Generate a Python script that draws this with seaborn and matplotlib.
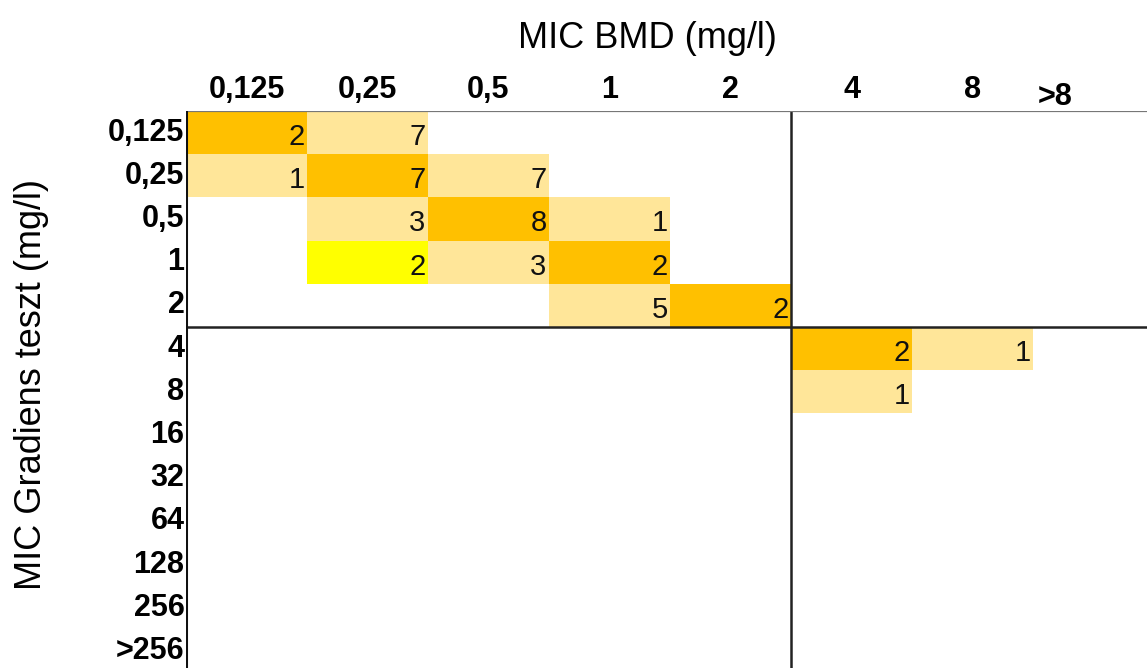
import numpy as np
import matplotlib
matplotlib.use('agg')
import matplotlib.pyplot as plt
import matplotlib.transforms as mtransforms
from matplotlib.colors import ListedColormap
import seaborn as sns

bmd_labels = ["0,125", "0,25", "0,5", "1", "2", "4", "8", ">8"]
gradient_labels = ["0,125", "0,25", "0,5", "1", "2", "4", "8", "16", "32", "64", "128", "256", ">256"]

# counts per (gradient test row, BMD column); 0 = empty cell
counts = [
    [2, 7, 0, 0, 0, 0, 0, 0],
    [1, 7, 7, 0, 0, 0, 0, 0],
    [0, 3, 8, 1, 0, 0, 0, 0],
    [0, 2, 3, 2, 0, 0, 0, 0],
    [0, 0, 0, 5, 2, 0, 0, 0],
    [0, 0, 0, 0, 0, 2, 1, 0],
    [0, 0, 0, 0, 0, 1, 0, 0],
    [0, 0, 0, 0, 0, 0, 0, 0],
    [0, 0, 0, 0, 0, 0, 0, 0],
    [0, 0, 0, 0, 0, 0, 0, 0],
    [0, 0, 0, 0, 0, 0, 0, 0],
    [0, 0, 0, 0, 0, 0, 0, 0],
    [0, 0, 0, 0, 0, 0, 0, 0],
]

# cell shading class: 0 none, 1 light, 2 dark (agreement), 3 yellow
shade = [
    [2, 1, 0, 0, 0, 0, 0, 0],
    [1, 2, 1, 0, 0, 0, 0, 0],
    [0, 1, 2, 1, 0, 0, 0, 0],
    [0, 3, 1, 2, 0, 0, 0, 0],
    [0, 0, 0, 1, 2, 0, 0, 0],
    [0, 0, 0, 0, 0, 2, 1, 0],
    [0, 0, 0, 0, 0, 1, 0, 0],
    [0, 0, 0, 0, 0, 0, 0, 0],
    [0, 0, 0, 0, 0, 0, 0, 0],
    [0, 0, 0, 0, 0, 0, 0, 0],
    [0, 0, 0, 0, 0, 0, 0, 0],
    [0, 0, 0, 0, 0, 0, 0, 0],
    [0, 0, 0, 0, 0, 0, 0, 0],
]

shade_colors = ["#FFFFFF", "#FFE699", "#FFC000", "#FFFF00"]

plt.rcParams['font.family'] = ['Liberation Sans', 'DejaVu Sans']

W, H = 1147, 668
fig = plt.figure(figsize=(W / 100, H / 100), dpi=100)
grid_left, grid_top = 186, 111
col_w, row_h = 121, 43.2
ax = fig.add_axes([grid_left / W, 1 - (grid_top + row_h * 13) / H,
                   col_w * 8 / W, row_h * 13 / H])

sns.heatmap(np.array(shade), cmap=ListedColormap(shade_colors), vmin=-0.5, vmax=3.5,
            cbar=False, ax=ax, xticklabels=bmd_labels, yticklabels=gradient_labels)

for i, row in enumerate(counts):
    for j, v in enumerate(row):
        if v:
            ax.text(j + 0.98, i + 0.6, str(v), ha="right", va="center",
                    fontsize=21, color="#111111")

ax.xaxis.tick_top()
ax.tick_params(axis="both", length=0)
ax.tick_params(axis="x", pad=4)
ax.tick_params(axis="y", pad=1)
plt.setp(ax.get_xticklabels(), fontsize=22, fontweight="bold", rotation=0)
plt.setp(ax.get_yticklabels(), fontsize=22, fontweight="bold", rotation=0)

# the ">8" header sits a bit left and lower in the original
lbl = ax.get_xticklabels()[-1]
lbl.set_transform(lbl.get_transform() + mtransforms.ScaledTranslation(-0.38, -0.07, fig.dpi_scale_trans))

ax.axhline(5, color="#222222", lw=1.8)
ax.axvline(5, color="#222222", lw=1.8)
ax.axhline(0, color="#777777", lw=1.6)
ax.axvline(0, color="#111111", lw=2.2)

fig.text(647 / W, 1 - 38 / H, "MIC BMD (mg/l)", ha="center", va="center", fontsize=26)
fig.text(32 / W, 1 - 385 / H, "MIC Gradiens teszt (mg/l)", ha="center", va="center",
         rotation=90, fontsize=26)

fig.savefig("out.png", dpi=100)
plt.close(fig)
